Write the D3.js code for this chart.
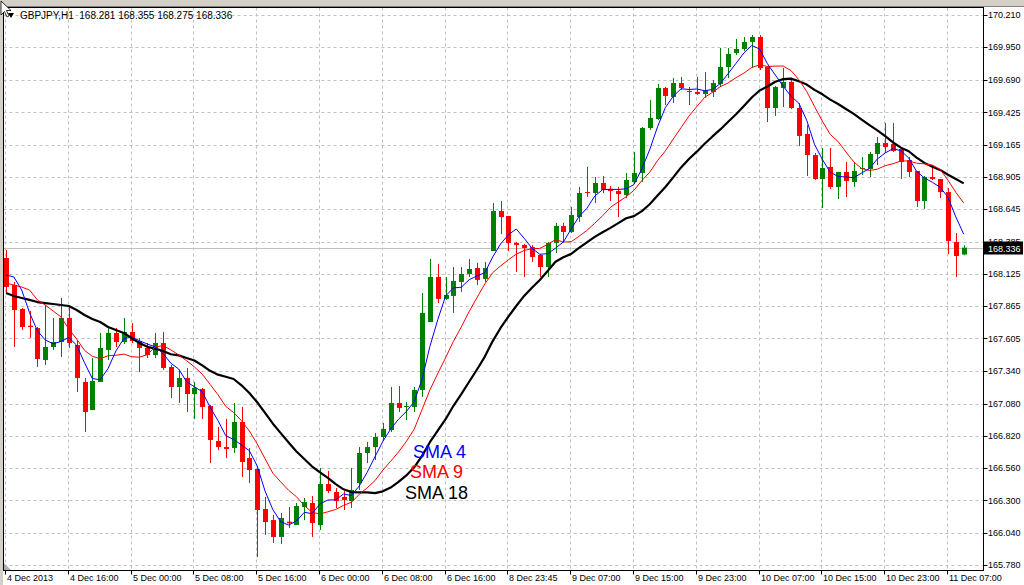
<!DOCTYPE html>
<html>
<head>
<meta charset="utf-8">
<script src="https://cdn.jsdelivr.net/npm/d3@7"></script>
<style>
  html, body { margin: 0; padding: 0; background: #fff; }
  svg { display: block; font-family: "Liberation Sans", Arial, sans-serif; }
</style>
</head>
<body>
<svg id="chart" width="1024" height="585"></svg>
<script>
// ─── Data (GBPJPY H1) ───
const symbol = "GBPJPY,H1";
const lastBar = { o: 168.281, h: 168.355, l: 168.275, c: 168.336 };

// one label every 8 bars, starting at bar 0
const timeLabels = [
  "4 Dec 2013", "4 Dec 16:00", "5 Dec 00:00", "5 Dec 08:00", "5 Dec 16:00",
  "6 Dec 00:00", "6 Dec 08:00", "6 Dec 16:00", "8 Dec 23:45", "9 Dec 07:00",
  "9 Dec 15:00", "9 Dec 23:00", "10 Dec 07:00", "10 Dec 15:00", "10 Dec 23:00",
  "11 Dec 07:00",
];
const priceTicks = [
  170.210, 169.950, 169.690, 169.425, 169.165, 168.905, 168.645, 168.385, 168.125,
  167.865, 167.605, 167.340, 167.080, 166.820, 166.560, 166.300, 166.040, 165.780,
];

const opens = [
  168.253, 168.035, 167.842, 167.707, 167.689, 167.431, 167.536, 167.576, 167.770, 167.552,
  167.254, 167.028, 167.254, 167.512, 167.649, 167.576, 167.657, 167.584, 167.528, 167.471,
  167.568, 167.375, 167.214, 167.286, 167.157, 167.198, 167.061, 166.779, 166.730, 166.722,
  166.932, 166.642, 166.553, 166.231, 166.142, 166.006, 166.129, 166.102, 166.247, 166.279,
  166.102, 166.432, 166.368, 166.328, 166.295, 166.440, 166.682, 166.730, 166.811, 166.867,
  167.085, 167.053, 167.053, 167.190, 167.737, 168.100, 167.923, 167.947, 168.060, 168.124,
  168.172, 168.084, 168.309, 168.631, 168.591, 168.374, 168.358, 168.341, 168.277, 168.180,
  168.374, 168.511, 168.462, 168.583, 168.784, 168.776, 168.857, 168.809, 168.792, 168.760,
  168.865, 168.937, 169.300, 169.372, 169.622, 169.550, 169.662, 169.590, 169.590, 169.574,
  169.590, 169.654, 169.791, 169.904, 169.936, 169.993, 170.033, 169.791, 169.461, 169.622,
  169.671, 169.461, 169.252, 169.082, 168.889, 168.986, 168.825, 168.946, 168.865, 168.970,
  168.970, 169.091, 169.179, 169.171, 169.131, 169.042, 168.954, 168.712, 168.905, 168.889,
  168.784, 168.382, lastBar.o,
];
const highs = [
  168.317, 168.060, 167.850, 167.826, 167.697, 167.874, 167.770, 167.931, 167.858, 167.592,
  167.286, 167.447, 167.649, 167.689, 167.689, 167.770, 167.729, 167.608, 167.568, 167.649,
  167.657, 167.391, 167.351, 167.367, 167.254, 167.206, 167.069, 166.892, 166.956, 167.085,
  167.053, 166.722, 166.561, 166.328, 166.183, 166.199, 166.247, 166.279, 166.320, 166.336,
  166.561, 166.537, 166.400, 166.376, 166.561, 166.730, 166.771, 166.843, 166.924, 167.214,
  167.222, 167.093, 167.214, 167.971, 168.245, 168.205, 168.100, 168.180, 168.180, 168.245,
  168.213, 168.221, 168.696, 168.712, 168.591, 168.382, 168.366, 168.358, 168.285, 168.382,
  168.535, 168.535, 168.664, 168.825, 168.986, 168.905, 168.913, 168.833, 168.825, 168.937,
  169.107, 169.308, 169.526, 169.654, 169.630, 169.703, 169.711, 169.630, 169.711, 169.751,
  169.687, 169.944, 169.944, 170.017, 170.033, 170.049, 170.049, 169.799, 169.638, 169.783,
  169.695, 169.501, 169.324, 169.099, 169.139, 169.139, 168.946, 169.026, 169.018, 169.066,
  169.107, 169.227, 169.340, 169.340, 169.147, 169.066, 168.954, 168.913, 169.002, 168.889,
  168.817, 168.454, lastBar.h,
];
const lows = [
  167.979, 167.536, 167.673, 167.608, 167.375, 167.391, 167.512, 167.455, 167.528, 167.173,
  166.851, 167.028, 167.254, 167.431, 167.536, 167.560, 167.568, 167.335, 167.447, 167.447,
  167.351, 167.125, 167.085, 167.012, 166.956, 166.956, 166.601, 166.706, 166.642, 166.682,
  166.489, 166.440, 165.844, 166.022, 165.957, 165.949, 166.078, 166.102, 166.142, 166.006,
  166.062, 166.360, 166.239, 166.223, 166.239, 166.384, 166.601, 166.626, 166.787, 166.851,
  167.012, 166.948, 167.012, 167.133, 167.737, 167.890, 167.915, 167.810, 167.979, 168.100,
  168.035, 168.060, 168.309, 168.446, 168.309, 168.140, 168.100, 168.221, 168.100, 168.100,
  168.293, 168.374, 168.454, 168.543, 168.744, 168.696, 168.776, 168.712, 168.583, 168.736,
  168.849, 168.865, 169.284, 169.364, 169.485, 169.501, 169.606, 169.485, 169.566, 169.542,
  169.550, 169.630, 169.703, 169.888, 169.920, 169.783, 169.767, 169.348, 169.397, 169.469,
  169.453, 169.155, 168.913, 168.881, 168.656, 168.809, 168.728, 168.744, 168.825, 168.921,
  168.905, 169.002, 169.099, 169.107, 168.889, 168.905, 168.664, 168.648, 168.881, 168.736,
  168.285, 168.100, lastBar.l,
];
const closes = [
  168.019, 167.834, 167.697, 167.697, 167.439, 167.536, 167.576, 167.770, 167.568, 167.286,
  167.012, 167.262, 167.528, 167.649, 167.576, 167.657, 167.584, 167.528, 167.471, 167.568,
  167.367, 167.214, 167.286, 167.157, 167.206, 167.053, 166.787, 166.730, 166.714, 166.932,
  166.610, 166.545, 166.223, 166.126, 166.006, 166.159, 166.116, 166.255, 166.287, 166.118,
  166.432, 166.376, 166.295, 166.304, 166.384, 166.682, 166.730, 166.811, 166.875, 167.085,
  167.045, 167.061, 167.190, 167.810, 168.100, 167.923, 167.955, 168.068, 168.124, 168.164,
  168.076, 168.172, 168.631, 168.583, 168.374, 168.358, 168.333, 168.261, 168.180, 168.374,
  168.511, 168.462, 168.599, 168.776, 168.776, 168.857, 168.801, 168.792, 168.768, 168.881,
  168.937, 169.300, 169.381, 169.622, 169.558, 169.662, 169.622, 169.598, 169.574, 169.606,
  169.662, 169.791, 169.896, 169.936, 169.993, 170.033, 169.783, 169.461, 169.630, 169.671,
  169.461, 169.236, 169.082, 168.889, 168.978, 168.825, 168.946, 168.873, 168.954, 168.978,
  169.091, 169.179, 169.147, 169.115, 169.026, 168.946, 168.712, 168.905, 168.889, 168.784,
  168.390, 168.269, lastBar.c,
];

// SMA values at the left edge, where the window reaches before the first visible bar
const sma4Lead = [168.116, 168.100, 167.995];
const sma9Lead = [168.051, 168.035, 168.019, 167.995, 167.915, 167.874, 167.826, 167.778];
const sma18Lead = [
  167.971, 167.947, 167.931, 167.915, 167.898, 167.890, 167.882, 167.874, 167.866,
  167.834, 167.794, 167.761, 167.737, 167.697, 167.673, 167.649, 167.608,
];

const smaDefs = [
  { name: "SMA 18", period: 18, lead: sma18Lead, color: "#000000", width: 2.2 },
  { name: "SMA 9", period: 9, lead: sma9Lead, color: "#ff0000", width: 1 },
  { name: "SMA 4", period: 4, lead: sma4Lead, color: "#0000ff", width: 1 },
];

// ─── Layout ───
const W = 1024, H = 585;
const PLOT = { left: 3.5, top: 7.5, right: 983.5, bottom: 570.5 };

const svg = d3.select("#chart");

const bars = closes.map((c, i) => ({ i, o: opens[i], h: highs[i], l: lows[i], c }));

const x = d3.scaleLinear().domain([0, bars.length - 1]).range([6, 963.7]);
const y = d3.scaleLinear().domain([165.780, 170.210]).range([565, 15]);

// ─── Window chrome ───
svg.append("rect").attr("width", W).attr("height", H).attr("fill", "#ffffff");
svg.append("rect").attr("width", W).attr("height", 6).attr("fill", "#d4d0c8");
svg.append("line").attr("x1", 0).attr("x2", W).attr("y1", 6.5).attr("y2", 6.5)
  .attr("stroke", "#808080");
svg.append("rect").attr("width", 3).attr("height", H).attr("fill", "#d4d0c8");

// ─── Grid ───
const gridG = svg.append("g").attr("class", "grid")
  .attr("stroke", "#c0c0c0").attr("stroke-dasharray", "3,3");

gridG.selectAll("line.h")
  .data(priceTicks)
  .join("line")
  .attr("class", "h")
  .attr("x1", PLOT.left).attr("x2", PLOT.right)
  .attr("y1", (d) => Math.round(y(d)) + 0.5)
  .attr("y2", (d) => Math.round(y(d)) + 0.5);

gridG.selectAll("line.v")
  .data(timeLabels)
  .join("line")
  .attr("class", "v")
  .attr("x1", (d, k) => Math.round(x(k * 8)) - 0.5)
  .attr("x2", (d, k) => Math.round(x(k * 8)) - 0.5)
  .attr("y1", PLOT.top).attr("y2", PLOT.bottom);

// current bid line
const bidY = Math.round(y(lastBar.c)) + 0.5;
svg.append("line")
  .attr("x1", PLOT.left).attr("x2", PLOT.right)
  .attr("y1", bidY).attr("y2", bidY)
  .attr("stroke", "#c0c0c0");

// ─── Candles ───
const candleG = svg.append("g").attr("class", "candles");
const candle = candleG.selectAll("g")
  .data(bars)
  .join("g")
  .attr("transform", (d) => `translate(${Math.round(x(d.i)) + 0.5},0)`)
  .attr("stroke", (d) => (d.c >= d.o ? "#008000" : "#ff0000"))
  .attr("fill", (d) => (d.c >= d.o ? "#008000" : "#ff0000"));

candle.append("line")
  .attr("y1", (d) => y(d.h))
  .attr("y2", (d) => y(d.l))
  .attr("stroke-width", 1);

candle.append("rect")
  .attr("x", -2.5)
  .attr("width", 5)
  .attr("y", (d) => y(Math.max(d.o, d.c)))
  .attr("height", (d) => Math.max(1, Math.abs(y(d.o) - y(d.c))))
  .attr("stroke", "none");

// ─── Moving averages ───
function sma(period, lead) {
  return closes.map((c, i) =>
    i < period - 1 ? lead[i] : d3.mean(closes.slice(i - period + 1, i + 1))
  );
}

const line = d3.line().x((d, i) => x(i)).y((d) => y(d));

svg.append("g").attr("class", "sma")
  .selectAll("path")
  .data(smaDefs)
  .join("path")
  .attr("d", (d) => line(sma(d.period, d.lead)))
  .attr("fill", "none")
  .attr("stroke", (d) => d.color)
  .attr("stroke-width", (d) => d.width)
  .attr("stroke-linejoin", "round");

// legend texts placed on the chart
const legendPos = { "SMA 4": [413, 458], "SMA 9": [410, 478], "SMA 18": [405, 499] };
svg.append("g").attr("class", "sma-labels")
  .selectAll("text")
  .data(smaDefs)
  .join("text")
  .attr("x", (d) => legendPos[d.name][0])
  .attr("y", (d) => legendPos[d.name][1])
  .attr("fill", (d) => d.color)
  .attr("font-size", "18px")
  .text((d) => d.name);

// ─── Frame ───
svg.append("rect")
  .attr("x", PLOT.left).attr("y", PLOT.top)
  .attr("width", PLOT.right - PLOT.left).attr("height", PLOT.bottom - PLOT.top)
  .attr("fill", "none").attr("stroke", "#000");

// ─── Price axis (right) ───
const yAxisG = svg.append("g").attr("class", "axis y-axis")
  .attr("font-size", "9px").attr("fill", "#000");
yAxisG.selectAll("line")
  .data(priceTicks)
  .join("line")
  .attr("x1", PLOT.right).attr("x2", PLOT.right + 4)
  .attr("y1", (d) => Math.round(y(d)) + 0.5)
  .attr("y2", (d) => Math.round(y(d)) + 0.5)
  .attr("stroke", "#000");
yAxisG.selectAll("text")
  .data(priceTicks)
  .join("text")
  .attr("x", 988)
  .attr("y", (d) => y(d))
  .attr("dy", "0.35em")
  .text((d) => d.toFixed(3));

// current price tag
svg.append("rect")
  .attr("x", 984).attr("y", bidY - 7)
  .attr("width", 39).attr("height", 13)
  .attr("fill", "#000");
svg.append("text")
  .attr("x", 988).attr("y", bidY)
  .attr("dy", "0.35em")
  .attr("font-size", "9px")
  .attr("fill", "#fff")
  .text(lastBar.c.toFixed(3));

// ─── Time axis (bottom) ───
const xAxisG = svg.append("g").attr("class", "axis x-axis")
  .attr("font-size", "9px").attr("fill", "#000");
xAxisG.selectAll("line")
  .data(timeLabels)
  .join("line")
  .attr("x1", (d, k) => Math.round(x(k * 8)) - 0.5)
  .attr("x2", (d, k) => Math.round(x(k * 8)) - 0.5)
  .attr("y1", PLOT.bottom).attr("y2", PLOT.bottom + 4)
  .attr("stroke", "#000");
xAxisG.selectAll("text")
  .data(timeLabels)
  .join("text")
  .attr("x", (d, k) => Math.round(x(k * 8)) + 1)
  .attr("y", 581)
  .text((d) => d);

// small grey shift marker bottom-left
svg.append("path")
  .attr("d", "M4,563 L4,570 L11,570 Z")
  .attr("fill", "#b0b0b0");

// ─── Header ───
svg.append("path")
  .attr("d", "M8,13 L14,13 L11,18 Z")
  .attr("fill", "#000");
svg.append("text")
  .attr("x", 20).attr("y", 19)
  .attr("font-size", "10px")
  .attr("fill", "#000")
  .attr("xml:space", "preserve")
  .attr("style", "white-space:pre")
  .text(`${symbol}  ${lastBar.o.toFixed(3)} ${lastBar.h.toFixed(3)} ${lastBar.l.toFixed(3)} ${lastBar.c.toFixed(3)}`);

// mouse pointer left in the screenshot
svg.append("path")
  .attr("d", "M1,1 L1,15 L4.5,11.5 L7,17 L9,16 L6.5,10.5 L11,10.5 Z")
  .attr("fill", "#fff").attr("stroke", "#000").attr("stroke-width", 0.8);
</script>
</body>
</html>
